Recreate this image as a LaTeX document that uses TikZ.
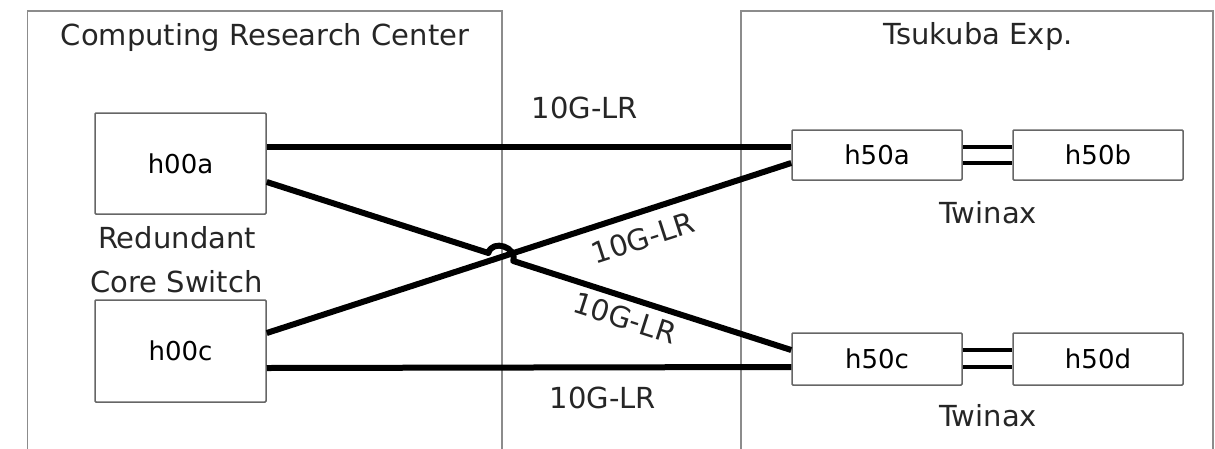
\documentclass[tikz,border=0pt]{standalone}
\usepackage{fontspec}
\setmainfont{DejaVu Sans}
\usetikzlibrary{calc}
\begin{document}
\begin{tikzpicture}[x=1pt,y=-1pt,
  region/.style={draw=black!45,line width=1.5pt},
  host/.style={draw=black!60,line width=1.5pt,rounded corners=1pt,fill=white,inner sep=0pt,
     font=\fontsize{26}{30}\selectfont},
  lbl/.style={font=\fontsize{29}{33}\selectfont,text=black!85,inner sep=0pt},
  link/.style={line width=6pt,line cap=butt},
  twin/.style={line width=4.5pt,line cap=butt}]
\useasboundingbox (0,0) rectangle (1215,448);
% regions
\draw[region] (27.5,452) -- (27.5,11) -- (502,11) -- (502,452);
\draw[region] (741,452) -- (741,11) -- (1213,11) -- (1213,452);
\node[lbl] (crc) at (265,37) {Computing Research Center};
\node[lbl] (tsu) at (978,36) {Tsukuba Exp.};
% links (drawn before hosts so ends tuck under borders)
\coordinate (a1) at (266,147);
\coordinate (a2) at (266,182);
\coordinate (c1) at (266,333);
\coordinate (c2) at (266,368);
\coordinate (pa1) at (792,147);
\coordinate (pa2) at (792,163);
\coordinate (pc1) at (792,350);
\coordinate (pc2) at (792,367);
% hosts
\node[host,minimum width=171pt,minimum height=101pt] (h00a) at (180.5,163.5) {h00a};
\node[host,minimum width=171pt,minimum height=102pt] (h00c) at (180.5,351) {h00c};
\node[host,minimum width=170pt,minimum height=50pt] (h50a) at (877,155) {h50a};
\node[host,minimum width=170pt,minimum height=50pt] (h50b) at (1098,155) {h50b};
\node[host,minimum width=170pt,minimum height=52pt] (h50c) at (877,359) {h50c};
\node[host,minimum width=170pt,minimum height=52pt] (h50d) at (1098,359) {h50d};
\node[lbl] (red) at (177,238) {Redundant};
\node[lbl] (core) at (176.5,282) {Core Switch};
\node[lbl] (tw1) at (988,213) {Twinax};
\node[lbl] (tw2) at (988,416) {Twinax};
% ports on node borders
\coordinate (a1) at ($(h00a.east)+(0,-16.5)$);
\coordinate (a2) at ($(h00a.east)+(0,18.5)$);
\coordinate (c1) at ($(h00c.east)+(0,-18)$);
\coordinate (c2) at ($(h00c.east)+(0,17)$);
\coordinate (pa1) at ($(h50a.west)+(0,-8)$);
\coordinate (pa2) at ($(h50a.west)+(0,8)$);
\coordinate (pc1) at ($(h50c.west)+(0,-9)$);
\coordinate (pc2) at ($(h50c.west)+(0,8)$);
% links
\draw[link] (a1) -- (pa1 -| a1) -- (pa1);
\draw[link] (c2) -- (pc2);
\draw[link] (c1) -- (pa2);
% jump over crossing
\coordinate (j1) at ($(a2)!0.4225!(pc1)$);
\coordinate (j2) at ($(a2)!0.4700!(pc1)$);
\draw[link,line join=round] (a2) -- (j1) .. controls ($(j1)+(4,-14)$) and ($(j2)+(4,-14)$) .. (j2) -- (pc1);
% twinax
\draw[twin] ($(h50a.east)+(0,-8)$) coordinate (t1) -- (t1 -| h50b.west);
\draw[twin] ($(h50a.east)+(0,8)$) coordinate (t2) -- (t2 -| h50b.west);
\draw[twin] ($(h50c.east)+(0,-9)$) coordinate (t3) -- (t3 -| h50d.west);
\draw[twin] ($(h50c.east)+(0,8)$) coordinate (t4) -- (t4 -| h50d.west);
% link labels
\node[lbl] (l1) at (585,108) {10G-LR};
\node[lbl] (l2) at (603,398) {10G-LR};
\node[lbl,rotate=18] (l3) at (643,238) {10G-LR};
\node[lbl,rotate=-17.7] (l4) at (625,318) {10G-LR};
\end{tikzpicture}
\end{document}
